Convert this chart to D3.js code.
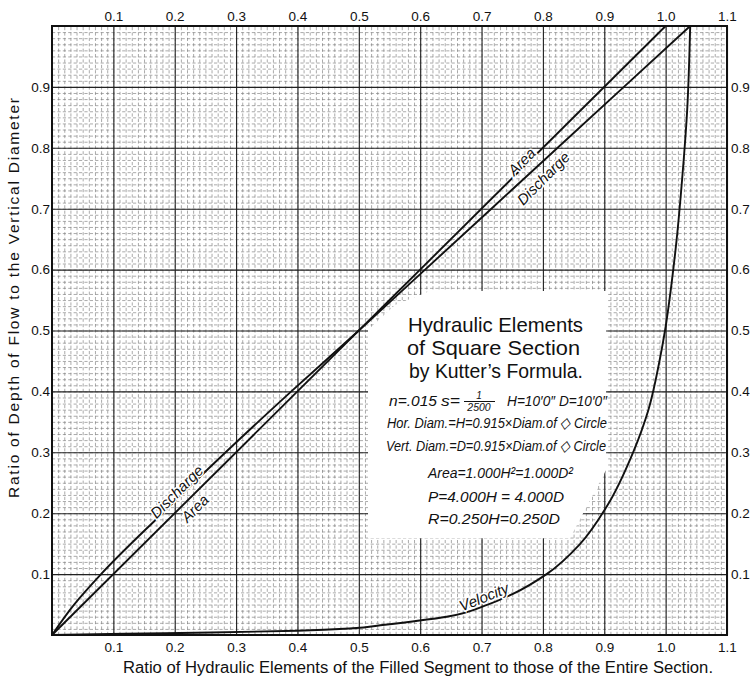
<!DOCTYPE html>
<html>
<head>
<meta charset="utf-8">
<script src="https://cdn.jsdelivr.net/npm/d3@7"></script>
<style>
  body { margin: 0; background: #fff; }
  svg { display: block; }
  .tick-lbl text { font-family: "Liberation Sans", Arial, sans-serif; font-size: 13.5px; fill: #111; }
</style>
</head>
<body>
<div id="chart"></div>
<script>
// tick labels
const xTickVals = [0.1, 0.2, 0.3, 0.4, 0.5, 0.6, 0.7, 0.8, 0.9, 1.0, 1.1];
const xTickText = ["0.1", "0.2", "0.3", "0.4", "0.5", "0.6", "0.7", "0.8", "0.9", "1.0", "1.1"];
const yTickVals = [0.1, 0.2, 0.3, 0.4, 0.5, 0.6, 0.7, 0.8, 0.9];
const yTickText = ["0.1", "0.2", "0.3", "0.4", "0.5", "0.6", "0.7", "0.8", "0.9"];

// curves: depth ratio (y) vs element ratio (x)
const areaDepth = [0, 1.0];
const areaRatio = [0, 1.0];

const dischargeDepth = [0, 0.05, 0.1, 0.2, 0.3, 0.4, 0.5, 0.6, 0.7, 0.8, 0.9, 1.0];
const dischargeRatio = [0, 0.036, 0.08, 0.18, 0.283, 0.39, 0.5, 0.608, 0.716, 0.824, 0.932, 1.04];

const velocityDepth = [0, 0.002, 0.004, 0.007, 0.011, 0.016, 0.03, 0.05, 0.068, 0.1, 0.15, 0.211, 0.3, 0.37, 0.45, 0.5, 0.58, 0.65, 0.75, 0.86, 1.0];
const velocityRatio = [0, 0.12, 0.26, 0.4, 0.49, 0.535, 0.643, 0.71, 0.752, 0.806, 0.861, 0.904, 0.947, 0.972, 0.99, 0.999, 1.010, 1.018, 1.027, 1.035, 1.04];

// white patch behind the note (ratio, depth)
const patchRatio = [0.515, 0.559, 0.616, 0.903, 0.903, 0.844, 0.515];
const patchDepth = [0.501, 0.542, 0.565, 0.565, 0.271, 0.159, 0.159];

const W = 756, H = 681;
const svg = d3.select("#chart").append("svg").attr("width", W).attr("height", H);

const x = d3.scaleLinear().domain([0, 1.1]).range([52, 727]);
const y = d3.scaleLinear().domain([0, 1.0]).range([635, 26]);
const plotW = 727 - 52, plotH = 635 - 26;

const minorX = d3.range(1, 110).map(i => i / 100);
const minorY = d3.range(1, 100).map(i => i / 100);

// minor grid
svg.append("g")
    .attr("transform", `translate(0,635)`)
    .call(d3.axisBottom(x).tickValues(minorX).tickSize(-plotH).tickFormat(""))
    .call(g => g.select(".domain").remove())
    .selectAll("line")
    .attr("stroke", "#7d7d7d").attr("stroke-width", 0.65).attr("stroke-dasharray", "3.2,2.2");

svg.append("g")
    .attr("transform", `translate(52,0)`)
    .call(d3.axisLeft(y).tickValues(minorY).tickSize(-plotW).tickFormat(""))
    .call(g => g.select(".domain").remove())
    .selectAll("line")
    .attr("stroke", "#7d7d7d").attr("stroke-width", 0.65).attr("stroke-dasharray", "3.2,2.2");

// major grid
svg.append("g")
    .attr("transform", `translate(0,635)`)
    .call(d3.axisBottom(x).tickValues(xTickVals).tickSize(-plotH).tickFormat(""))
    .call(g => g.select(".domain").remove())
    .selectAll("line").attr("stroke", "#222").attr("stroke-width", 1.1);

svg.append("g")
    .attr("transform", `translate(52,0)`)
    .call(d3.axisLeft(y).tickValues(yTickVals).tickSize(-plotW).tickFormat(""))
    .call(g => g.select(".domain").remove())
    .selectAll("line").attr("stroke", "#222").attr("stroke-width", 1.1);

// frame
svg.append("rect")
    .attr("x", 52).attr("y", 26).attr("width", plotW).attr("height", plotH)
    .attr("fill", "none").attr("stroke", "#111").attr("stroke-width", 2);

// tick labels
const fmtX = (d, i) => xTickText[i];
const fmtY = (d, i) => yTickText[i];

svg.append("g").attr("class", "tick-lbl")
    .attr("transform", "translate(0,26)")
    .call(d3.axisTop(x).tickValues(xTickVals).tickSize(0).tickPadding(5).tickFormat(fmtX))
    .call(g => g.select(".domain").remove());

svg.append("g").attr("class", "tick-lbl")
    .attr("transform", "translate(0,635)")
    .call(d3.axisBottom(x).tickValues(xTickVals).tickSize(0).tickPadding(7).tickFormat(fmtX))
    .call(g => g.select(".domain").remove());

svg.append("g").attr("class", "tick-lbl")
    .attr("transform", "translate(52,0)")
    .call(d3.axisLeft(y).tickValues(yTickVals).tickSize(0).tickPadding(2).tickFormat(fmtY))
    .call(g => g.select(".domain").remove());

svg.append("g").attr("class", "tick-lbl")
    .attr("transform", "translate(727,0)")
    .call(d3.axisRight(y).tickValues(yTickVals).tickSize(0).tickPadding(4).tickFormat(fmtY))
    .call(g => g.select(".domain").remove());

// white patch for the note
svg.append("polygon")
    .attr("points", patchRatio.map((r, i) => `${x(r)},${y(patchDepth[i])}`).join(" "))
    .attr("fill", "#fff");

// curves
const line = d3.line().x(d => x(d[0])).y(d => y(d[1]));
const lineSmooth = d3.line().x(d => x(d[0])).y(d => y(d[1])).curve(d3.curveMonotoneY);

const curves = [
    { pts: areaRatio.map((r, i) => [r, areaDepth[i]]), gen: line },
    { pts: dischargeRatio.map((r, i) => [r, dischargeDepth[i]]), gen: lineSmooth },
    { pts: velocityRatio.map((r, i) => [r, velocityDepth[i]]), gen: lineSmooth }
];

svg.selectAll("path.curve")
    .data(curves)
    .enter()
    .append("path")
    .attr("class", "curve")
    .attr("d", d => d.gen(d.pts))
    .attr("fill", "none")
    .attr("stroke", "#111")
    .attr("stroke-width", 1.9);

// curve labels
const curveLabels = [
    { t: "Area", px: 521.7, py: 161.7, rot: -45 },
    { t: "Discharge", px: 543.3, py: 178.3, rot: -45 },
    { t: "Discharge", px: 176.7, py: 491.7, rot: -45 },
    { t: "Area", px: 195, py: 508.3, rot: -45 },
    { t: "Velocity", px: 484, py: 597, rot: -22 }
];

svg.selectAll("text.clabel")
    .data(curveLabels)
    .enter()
    .append("text")
    .attr("class", "clabel")
    .attr("transform", d => `translate(${d.px},${d.py}) rotate(${d.rot})`)
    .attr("text-anchor", "middle")
    .attr("dy", "0.35em")
    .style("font-family", "'Liberation Sans', Arial, sans-serif")
    .style("font-style", "italic")
    .style("font-size", "15px")
    .style("paint-order", "stroke")
    .style("stroke", "#fff")
    .style("stroke-width", "3px")
    .attr("fill", "#111")
    .text(d => d.t);

// note block
const note = svg.append("g")
    .style("font-family", "'Liberation Sans', Arial, sans-serif")
    .attr("fill", "#111");

const headLines = [
    { t: "Hydraulic Elements", x0: 408, y0: 332, w: 175 },
    { t: "of Square Section", x0: 407, y0: 355, w: 173 },
    { t: "by Kutter\u2019s Formula.", x0: 409, y0: 378, w: 174 }
];
note.selectAll("text.head")
    .data(headLines)
    .enter()
    .append("text")
    .attr("class", "head")
    .attr("x", d => d.x0).attr("y", d => d.y0)
    .attr("textLength", d => d.w).attr("lengthAdjust", "spacingAndGlyphs")
    .style("font-size", "21px")
    .text(d => d.t);

const italicLines = [
    { t: "n=.015", x0: 389, y0: 406, w: 48 },
    { t: "s=", x0: 441, y0: 406, w: 19 },
    { t: "H=10\u20320\u2033 D=10\u20320\u2033", x0: 507, y0: 406, w: 100 },
    { t: "Hor. Diam.=H=0.915\u00d7Diam.of \u25c7 Circle", x0: 387, y0: 428, w: 220 },
    { t: "Vert. Diam.=D=0.915\u00d7Diam.of \u25c7 Circle", x0: 386, y0: 451, w: 220 },
    { t: "Area=1.000H\u00b2=1.000D\u00b2", x0: 428, y0: 478, w: 145 },
    { t: "P=4.000H = 4.000D", x0: 428, y0: 502, w: 136 },
    { t: "R=0.250H=0.250D", x0: 428, y0: 524, w: 132 }
];
note.selectAll("text.ital")
    .data(italicLines)
    .enter()
    .append("text")
    .attr("class", "ital")
    .attr("x", d => d.x0).attr("y", d => d.y0)
    .attr("textLength", d => d.w).attr("lengthAdjust", "spacingAndGlyphs")
    .style("font-size", "15.5px")
    .style("font-style", "italic")
    .text(d => d.t);

// fraction 1/2500
note.append("text").attr("x", 479).attr("y", 399).attr("text-anchor", "middle")
    .style("font-size", "10px").style("font-style", "italic").text("1");
note.append("line").attr("x1", 464).attr("x2", 495).attr("y1", 401.5).attr("y2", 401.5)
    .attr("stroke", "#111").attr("stroke-width", 1);
note.append("text").attr("x", 479).attr("y", 410.5).attr("text-anchor", "middle")
    .style("font-size", "10.5px").style("font-style", "italic").text("2500");

// axis titles
svg.append("text")
    .attr("x", 123).attr("y", 673)
    .attr("textLength", 590).attr("lengthAdjust", "spacingAndGlyphs")
    .style("font-family", "'Liberation Sans', Arial, sans-serif")
    .style("font-size", "16px")
    .attr("fill", "#111")
    .text("Ratio of Hydraulic Elements of the Filled Segment to those of the Entire Section.");

svg.append("text")
    .attr("transform", "translate(19,298) rotate(-90)")
    .attr("text-anchor", "middle")
    .attr("textLength", 400).attr("lengthAdjust", "spacing")
    .style("font-family", "'Liberation Sans', Arial, sans-serif")
    .style("font-size", "15.5px")
    .attr("fill", "#111")
    .text("Ratio of Depth of Flow to the Vertical Diameter");
</script>
</body>
</html>
